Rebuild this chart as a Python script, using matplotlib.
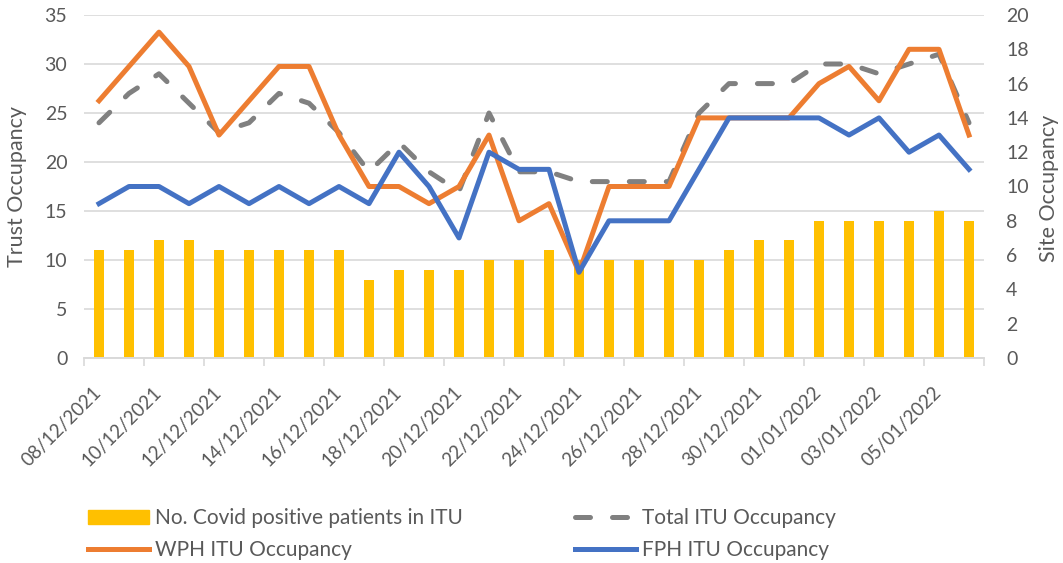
import matplotlib
matplotlib.use("Agg")
import matplotlib.pyplot as plt
from matplotlib.lines import Line2D
from matplotlib.patches import Patch
import numpy as np

plt.rcParams['font.family'] = ['Lato', 'DejaVu Sans']

dates = ["08/12/2021", "09/12/2021", "10/12/2021", "11/12/2021", "12/12/2021",
         "13/12/2021", "14/12/2021", "15/12/2021", "16/12/2021", "17/12/2021",
         "18/12/2021", "19/12/2021", "20/12/2021", "21/12/2021", "22/12/2021",
         "23/12/2021", "24/12/2021", "25/12/2021", "26/12/2021", "27/12/2021",
         "28/12/2021", "29/12/2021", "30/12/2021", "31/12/2021", "01/01/2022",
         "02/01/2022", "03/01/2022", "04/01/2022", "05/01/2022", "06/01/2022"]

covid_itu = [11, 11, 12, 12, 11, 11, 11, 11, 11, 8, 9, 9, 9, 10, 10,
             11, 10, 10, 10, 10, 10, 11, 12, 12, 14, 14, 14, 14, 15, 14]
total_itu = [24, 27, 29, 26, 23, 24, 27, 26, 23, 19, 22, 19, 17, 25, 19,
             19, 18, 18, 18, 18, 25, 28, 28, 28, 30, 30, 29, 30, 31, 24]
wph_itu = [15, 17, 19, 17, 13, 15, 17, 17, 13, 10, 10, 9, 10, 13, 8,
           9, 5, 10, 10, 10, 14, 14, 14, 14, 16, 17, 15, 18, 18, 13]
fph_itu = [9, 10, 10, 9, 10, 9, 10, 9, 10, 9, 12, 10, 7, 12, 11,
           11, 5, 8, 8, 8, 11, 14, 14, 14, 14, 13, 14, 12, 13, 11]

C_BAR = "#FFC000"
C_TOT = "#808080"
C_WPH = "#ED7D31"
C_FPH = "#4472C4"
C_TXT = "#595959"
C_GRID = "#D9D9D9"
LW = 3.6
DASH = (3.0, 4.4)

fig = plt.figure(figsize=(10.63, 5.63), dpi=100)
ax = fig.add_axes([84/1063, 1-358/563, 900/1063, 343/563])
ax2 = ax.twinx()

x = np.arange(len(dates))
ax.bar(x, covid_itu, width=0.35, color=C_BAR, zorder=2)
ax.plot(x, total_itu, color=C_TOT, lw=LW, dashes=DASH,
        dash_capstyle='round', zorder=3)
ax2.plot(x, wph_itu, color=C_WPH, lw=LW, zorder=3)
ax2.plot(x, fph_itu, color=C_FPH, lw=LW, zorder=4)

ax.set_xlim(-0.5, len(dates) - 0.5)
ax.set_ylim(0, 35)
ax2.set_ylim(0, 20)
ax.set_yticks(np.arange(0, 36, 5))
ax2.set_yticks(np.arange(0, 21, 2))

ax.yaxis.grid(True, color=C_GRID, lw=1.2, zorder=0)
ax.set_axisbelow(True)

for a in (ax, ax2):
    for s in ("top", "left", "right"):
        a.spines[s].set_visible(False)
    a.spines["bottom"].set_color(C_GRID)
    a.spines["bottom"].set_linewidth(1.2)

ax.tick_params(axis='y', length=0, pad=12, labelsize=14, labelcolor=C_TXT)
ax2.tick_params(axis='y', length=0, pad=16, labelsize=14, labelcolor=C_TXT)

# tick marks at category boundaries every 2, labels every 2 categories
ax.set_xticks(np.arange(-0.5, len(dates), 2))
ax.set_xticklabels([])
ax.tick_params(axis='x', which='major', length=6, color=C_GRID, width=1.2)
ax.set_xticks(x[::2], minor=True)
ax.set_xticklabels(dates[::2], minor=True, rotation=45, ha='right',
                   va='center', rotation_mode='anchor', fontsize=13.5, color=C_TXT)
ax.tick_params(axis='x', which='minor', length=0, pad=23)

fig.text(17.5/1063, 1-186/563, "Trust Occupancy", rotation=90, ha='center',
         va='center', fontsize=15.5, color=C_TXT)
fig.text(1049/1063, 1-188/563, "Site Occupancy", rotation=90, ha='center',
         va='center', fontsize=15.5, color=C_TXT)

handles = [Patch(color=C_BAR),
           Line2D([], [], color=C_WPH, lw=LW),
           Line2D([], [], color=C_TOT, lw=LW, dashes=DASH, dash_capstyle='round'),
           Line2D([], [], color=C_FPH, lw=LW)]
labels = ["No. Covid positive patients in ITU", "WPH ITU Occupancy",
          "Total ITU Occupancy", "FPH ITU Occupancy"]
fig.legend(handles, labels, ncol=2, loc='upper left',
           bbox_to_anchor=(80/1063, 1-500/563), frameon=False,
           fontsize=15, labelcolor=C_TXT, handlelength=2.9, handletextpad=0.3,
           columnspacing=5.4, labelspacing=0.55, borderaxespad=0)

fig.savefig("out.png", dpi=100)
